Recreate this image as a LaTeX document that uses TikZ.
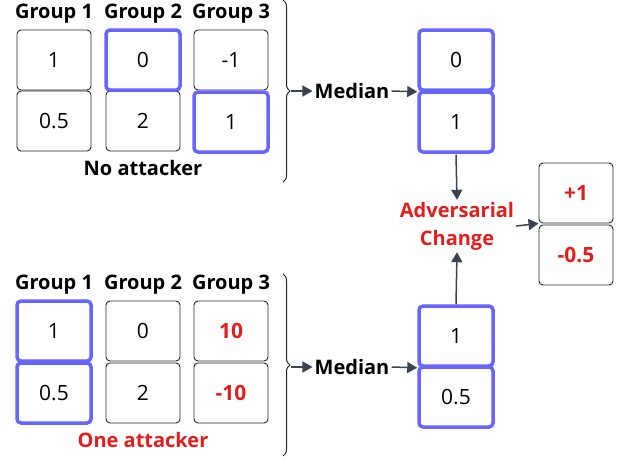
\documentclass[tikz,border=0pt]{standalone}
\usepackage{fontspec}
\setmainfont{Open Sans}
\usetikzlibrary{arrows.meta,decorations.pathreplacing}
\definecolor{medblue}{RGB}{104,100,255}
\definecolor{attred}{RGB}{228,28,28}
\definecolor{arrgray}{RGB}{60,66,78}

\begin{document}
\begin{tikzpicture}[x=1pt,y=-1pt,
Cell/.style={draw=black!85,line width=0.9pt,rounded corners=4pt,minimum width=74pt,minimum height=60pt,inner sep=0pt,font=\fontsize{21}{24}\selectfont},
Picked/.style={Cell,draw=medblue,line width=3.5pt},
Bad/.style={text=attred,font=\fontsize{21}{24}\selectfont\bfseries},
Label/.style={font=\fontsize{20}{24}\selectfont\bfseries,inner sep=2pt},
Flow/.style={draw=arrgray,line width=1.5pt,-{Triangle[length=10pt,width=11pt]}},
Brace/.style={draw=black!85,line width=1pt,decorate,decoration={brace,amplitude=7pt}}
]
\useasboundingbox (0,0) rectangle (618,459);

% top: no attacker
\node[Label] (hA1) at (54,14) {Group 1};
\node[Label] (hA2) at (143,14) {Group 2};
\node[Label] (hA3) at (231,14) {Group 3};

\node[Cell] (a11) at (54,60) {1};
\node[Cell] (a12) at (54,121) {0.5};
\node[Cell] (a22) at (143,121) {2};
\node[Cell] (a31) at (231,60) {-1};
\node[Picked] (a21) at (143,60) {0};
\node[Picked] (a32) at (231,122) {1};

\node[Label] (noatt) at (143,168) {No attacker};

\draw[Brace] (283,0) -- (283,182);
\coordinate (tipA) at (291,91);
\node[Label] (medA) at (352,91) {Median};

\node[Picked] (ma1) at (456,60) {0};
\node[Picked] (ma2) at (456,122) {1};

\draw[Flow] (tipA) -- (medA.west);
\draw[Flow] (medA.east) -- (ma1.south west);

% bottom: one attacker
\node[Label] (hB1) at (54,285) {Group 1};
\node[Label] (hB2) at (143,285) {Group 2};
\node[Label] (hB3) at (231,285) {Group 3};

\node[Cell] (b21) at (143,331) {0};
\node[Cell] (b22) at (143,393) {2};
\node[Cell,Bad] (b31) at (231,331) {10};
\node[Cell,Bad] (b32) at (231,393) {-10};
\node[Picked] (b11) at (54,331) {1};
\node[Picked] (b12) at (54,393) {0.5};

\node[Label,text=attred] (oneatt) at (143,440) {One attacker};

\draw[Brace] (283,274) -- (283,456);
\coordinate (tipB) at (291,367);
\node[Label] (medB) at (352,367) {Median};

\node[Picked] (mb1) at (456,336) {1};
\node[Picked] (mb2) at (456,397) {0.5};

\draw[Flow] (tipB) -- (medB.west);
\draw[Flow] (medB.east) -- (mb1.south west);

% change
\node[Label,text=attred,align=center] (adv) at (457,226) {Adversarial\\[4pt]Change};
\node[Cell,Bad] (c1) at (576,193) {+1};
\node[Cell,Bad] (c2) at (576,255) {-0.5};

\draw[Flow] (ma2.south) ++(0,1) -- (adv.north);
\draw[Flow] (mb1.north) -- (adv.south);
\draw[Flow] (adv.east) -- (c1.south west);

\end{tikzpicture}
\end{document}
